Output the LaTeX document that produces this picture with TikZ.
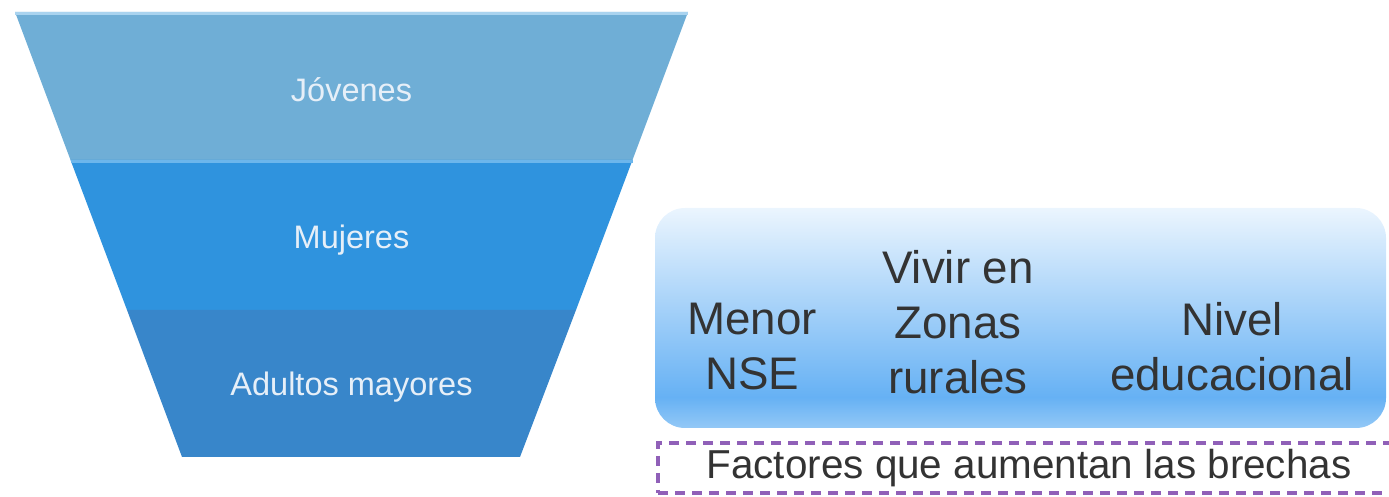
\documentclass[tikz,border=0pt]{standalone}
\usepackage{fontspec}
\setmainfont{Liberation Sans}
\usetikzlibrary{positioning}

\definecolor{bandA}{HTML}{6FAED6}
\definecolor{bandB}{HTML}{2F93DE}
\definecolor{bandC}{HTML}{3886CA}
\definecolor{edgeA}{HTML}{A9D3EF}
\definecolor{edgeB}{HTML}{6CB6EC}
\definecolor{labeltext}{HTML}{E6EFF8}
\definecolor{boxtop}{HTML}{EBF5FE}
\definecolor{boxmid}{HTML}{66B1F4}
\definecolor{boxbot}{HTML}{93C8F6}
\definecolor{factortext}{HTML}{333333}
\definecolor{dashpurple}{HTML}{9060B8}

\pgfdeclareverticalshading{boxshade}{100bp}{color(0bp)=(boxbot); color(25bp)=(boxbot); color(32bp)=(boxmid); color(75bp)=(boxtop); color(100bp)=(boxtop)}

\tikzset{
  band label/.style={text=labeltext, font=\fontsize{18.5}{22}\selectfont},
  factor/.style={text=factortext, align=center, font=\fontsize{26}{31.3}\selectfont},
  factor box/.style={shading=boxshade, rounded corners=0.6cm, minimum width=14.62cm, minimum height=4.4cm},
  legend box/.style={draw=dashpurple, line width=2pt, dash pattern=on 0.2cm off 0.14cm,
    text=factortext, font=\fontsize{23}{27}\selectfont, minimum width=14.84cm, minimum height=1cm},
}

\begin{document}
\begin{tikzpicture}
\useasboundingbox (0,0) rectangle (27.78,9.94);

% Funnel
\fill[bandA] (0.30,9.70) -- (13.76,9.70) -- (12.65,6.74) -- (1.41,6.74) -- cycle;
\fill[bandB] (1.41,6.74) -- (12.65,6.74) -- (11.52,3.74) -- (2.54,3.74) -- cycle;
\fill[bandC] (2.54,3.74) -- (11.52,3.74) -- (10.40,0.80) -- (3.64,0.80) -- cycle;
\draw[edgeA, line width=1.5pt] (0.30,9.67) -- (13.76,9.67);
\draw[edgeB, line width=1.5pt] (1.41,6.71) -- (12.65,6.71);

\node[band label] (jovenes) at (7.03,8.14) {Jóvenes};
\node[band label] (mujeres) at (7.03,5.14) {Mujeres};
\node[band label] (adultos) at (7.03,2.20) {Adultos mayores};

% Factors
\node[factor box] (caja) at (20.41,3.58) {};
\node[factor] (nse) at (15.04,3.00) {Menor\\NSE};
\node[factor] (zonas) at (19.16,3.50) {Vivir en\\Zonas\\rurales};
\node[factor] (nivel) at (24.64,3.00) {Nivel\\educacional};

\node[legend box] (brechas) at (20.58,0.58) {Factores que aumentan las brechas};

\end{tikzpicture}
\end{document}
